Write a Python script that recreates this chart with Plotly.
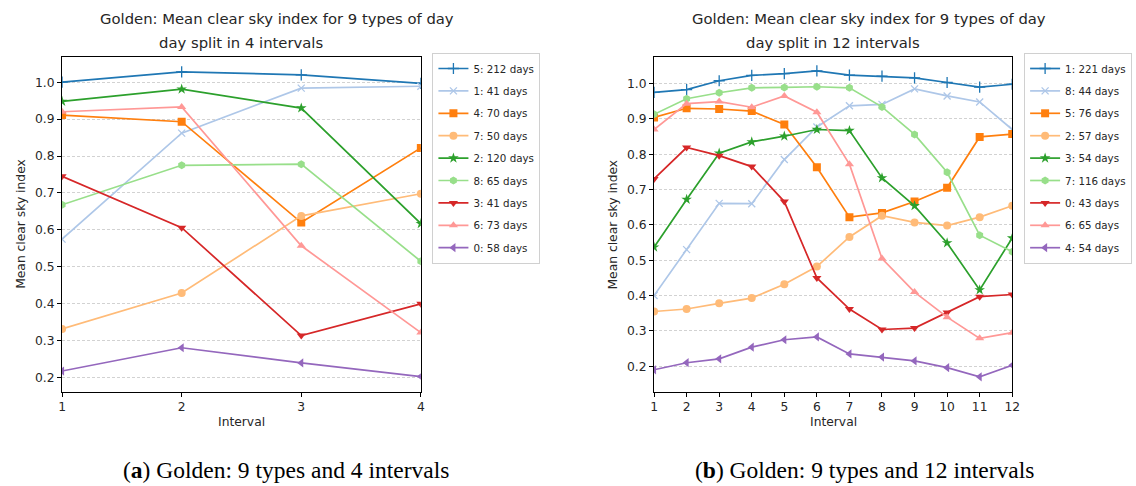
import plotly.graph_objects as go

W, H = 1136, 486

# ---------------- data ----------------
intervals_a = [1, 2, 3, 4]
labels_a = ["5: 212 days", "1: 41 days", "4: 70 days", "7: 50 days", "2: 120 days",
            "8: 65 days", "3: 41 days", "6: 73 days", "0: 58 days"]
values_a = [
    [1.000, 1.028, 1.020, 0.997],
    [0.575, 0.862, 0.984, 0.989],
    [0.911, 0.893, 0.620, 0.822],
    [0.332, 0.429, 0.638, 0.698],
    [0.948, 0.981, 0.930, 0.617],
    [0.668, 0.775, 0.778, 0.515],
    [0.745, 0.606, 0.314, 0.400],
    [0.920, 0.933, 0.557, 0.322],
    [0.218, 0.281, 0.240, 0.203],
]

intervals_b = list(range(1, 13))
labels_b = ["1: 221 days", "8: 44 days", "5: 76 days", "2: 57 days", "3: 54 days",
            "7: 116 days", "0: 43 days", "6: 65 days", "4: 54 days"]
values_b = [
    [0.975, 0.983, 1.008, 1.023, 1.028, 1.036, 1.024, 1.021, 1.016, 1.003, 0.990, 0.998],
    [0.400, 0.530, 0.661, 0.660, 0.785, 0.877, 0.937, 0.941, 0.985, 0.965, 0.948, 0.870],
    [0.904, 0.930, 0.928, 0.922, 0.884, 0.763, 0.622, 0.634, 0.666, 0.705, 0.849, 0.857],
    [0.355, 0.362, 0.378, 0.393, 0.432, 0.482, 0.566, 0.626, 0.607, 0.598, 0.622, 0.654],
    [0.537, 0.672, 0.803, 0.835, 0.851, 0.870, 0.867, 0.733, 0.654, 0.549, 0.416, 0.563],
    [0.913, 0.957, 0.974, 0.988, 0.989, 0.991, 0.988, 0.934, 0.856, 0.749, 0.571, 0.524],
    [0.730, 0.819, 0.796, 0.765, 0.666, 0.450, 0.362, 0.304, 0.308, 0.352, 0.397, 0.403],
    [0.870, 0.943, 0.949, 0.933, 0.965, 0.919, 0.772, 0.505, 0.410, 0.339, 0.279, 0.295],
    [0.190, 0.210, 0.221, 0.254, 0.275, 0.283, 0.235, 0.226, 0.215, 0.196, 0.170, 0.203],
]

y_ticks = [0.2, 0.3, 0.4, 0.5, 0.6, 0.7, 0.8, 0.9, 1.0]

# ---------------- styles ----------------
colors = ["#1f77b4", "#aec7e8", "#ff7f0e", "#ffbb78", "#2ca02c",
          "#98df8a", "#d62728", "#ff9896", "#9467bd"]
symbols = ["cross-thin", "x-thin", "square", "circle", "star",
           "hexagon", "triangle-down", "triangle-up", "triangle-left"]
sizes = [8, 7, 8, 8, 8, 8, 8, 8, 8]

FONT = "DejaVu Sans"
TXT = "#262626"

fig = go.Figure()


def add_series(xs, all_vals, labels, xa, ya, legend, grp):
    for i, (vals, lab) in enumerate(zip(all_vals, labels)):
        thin = symbols[i].endswith("-thin")
        fig.add_trace(go.Scatter(
            x=xs, y=vals, name=lab, mode="lines+markers",
            xaxis=xa, yaxis=ya, legend=legend, legendgroup=f"{grp}{i}",
            line=dict(color=colors[i], width=1.7),
            marker=dict(symbol=symbols[i], size=sizes[i], color=colors[i],
                        line=dict(color=colors[i], width=1.3 if thin else 0)),
        ))


add_series(intervals_a, values_a, labels_a, "x", "y", "legend", "a")
add_series(intervals_b, values_b, labels_b, "x2", "y2", "legend2", "b")


def px(x):
    return x / W


def py(y):
    return 1 - y / H


xdom_a = [px(58.7), px(421.3)]
xdom_b = [px(657.0), px(1019.0)]
ydom = [py(391.7), py(56.7)]

axis_common = dict(
    showline=True, mirror=True, linecolor="black", linewidth=1,
    ticks="outside", ticklen=4, tickcolor="black", tickwidth=1,
    tickfont=dict(family=FONT, size=12.3, color=TXT),
    zeroline=False,
)
grid = dict(showgrid=True, gridcolor="#d2d2d2", gridwidth=0.8, griddash="3px,2px")

legend_common = dict(xanchor="left", yanchor="top",
                     bgcolor="white", bordercolor="#d0d0d0", borderwidth=1,
                     font=dict(family=FONT, size=10.3, color=TXT),
                     traceorder="grouped", tracegroupgap=3.4, itemwidth=30)

fig.update_layout(
    width=W, height=H,
    margin=dict(l=0, r=0, t=0, b=0),
    paper_bgcolor="white", plot_bgcolor="white",
    xaxis=dict(domain=xdom_a, range=[1, 4], tickvals=intervals_a, showgrid=False,
               anchor="y", **axis_common),
    yaxis=dict(domain=ydom, range=[0.162, 1.069], tickvals=y_ticks, tickformat=".1f",
               anchor="x", **grid, **axis_common),
    xaxis2=dict(domain=xdom_b, range=[1, 12], tickvals=intervals_b, showgrid=False,
                anchor="y2", **axis_common),
    yaxis2=dict(domain=ydom, range=[0.128, 1.076], tickvals=y_ticks, tickformat=".1f",
                anchor="x2", **grid, **axis_common),
    legend=dict(x=px(433), y=py(53), **legend_common),
    legend2=dict(x=px(1031), y=py(53), **legend_common),
    showlegend=True,
)

ann = []


def text(x, y, s, size, family=FONT, angle=0, color=TXT):
    ann.append(dict(x=px(x), y=py(y), xref="paper", yref="paper", text=s,
                    showarrow=False, xanchor="center", yanchor="middle",
                    font=dict(family=family, size=size, color=color), textangle=angle))


# titles
text(276, 19, "Golden: Mean clear sky index for 9 types of day", 14.8)
text(240, 43, "day split in 4 intervals", 14.8)
text(874, 19, "Golden: Mean clear sky index for 9 types of day", 14.8)
text(838, 43, "day split in 12 intervals", 14.8)
# axis titles
text(240, 422, "Interval", 12.3)
text(838, 422, "Interval", 12.3)
text(17, 224, "Mean clear sky index", 12.3, angle=-90)
text(616, 224, "Mean clear sky index", 12.3, angle=-90)
# captions
text(285, 470, "(<b>a</b>) Golden: 9 types and 4 intervals", 23.5,
     family="Liberation Serif", color="black")
text(870, 470, "(<b>b</b>) Golden: 9 types and 12 intervals", 23.5,
     family="Liberation Serif", color="black")

fig.update_layout(annotations=ann)

fig.write_html("out.html", config={"displayModeBar": False},
               post_script="document.body.style.margin='0';")
